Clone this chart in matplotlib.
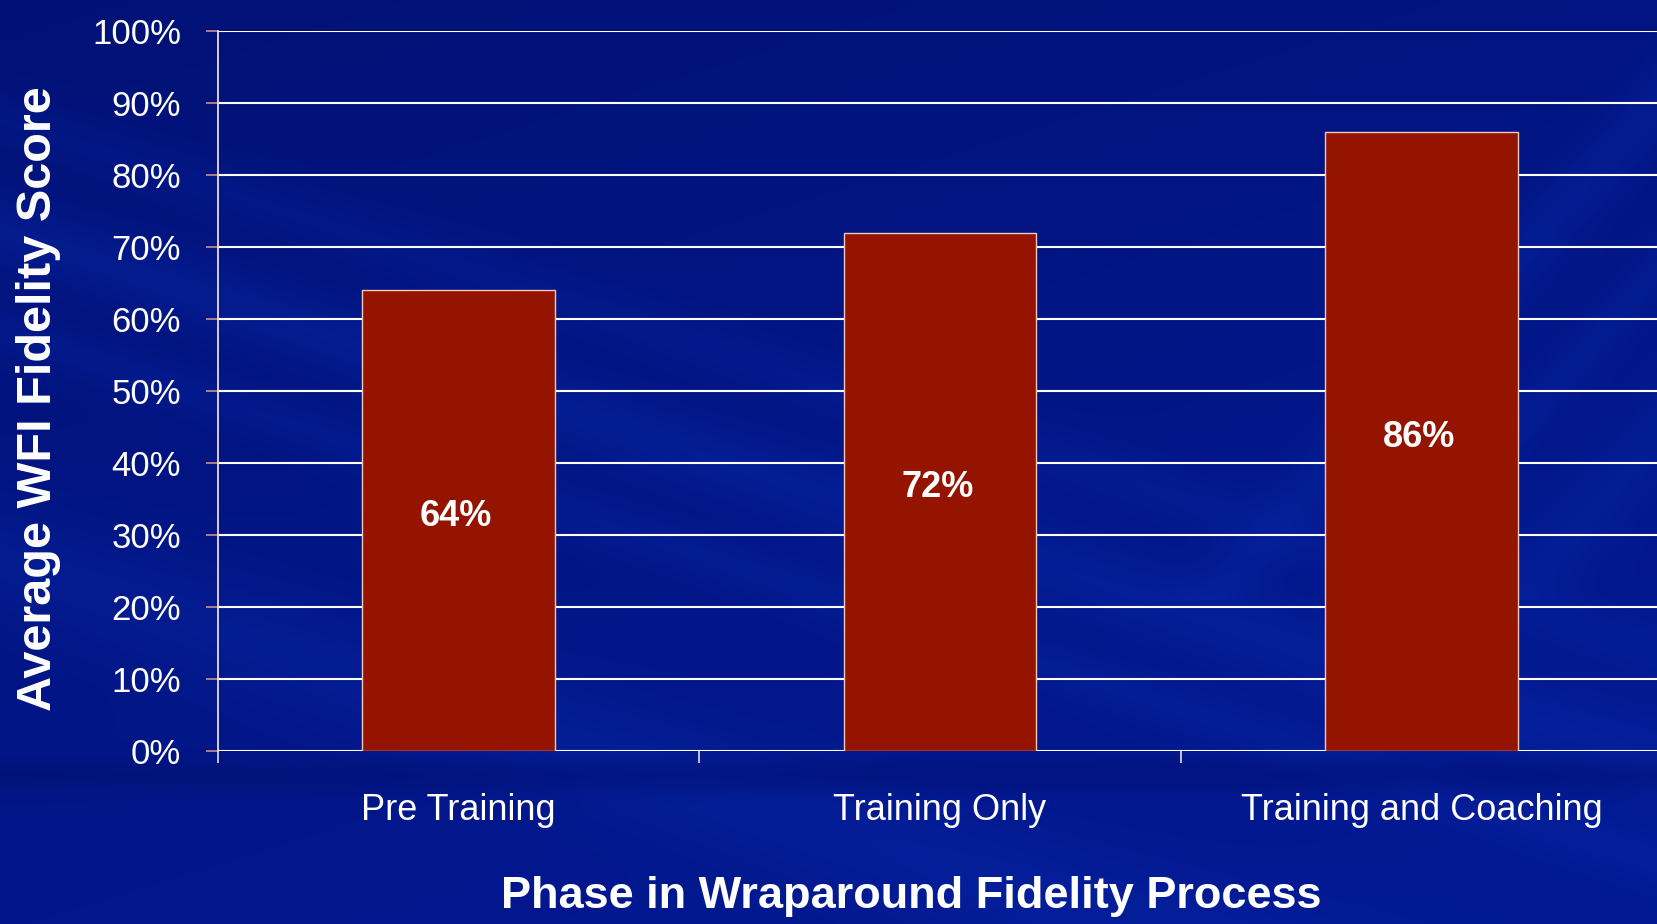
import numpy as np
import matplotlib.pyplot as plt

# ----------------------------------------------------------------------
# data
# ----------------------------------------------------------------------
phases = ['Pre Training', 'Training Only', 'Training and Coaching']
scores = [64, 72, 86]
y_ticks = [0, 10, 20, 30, 40, 50, 60, 70, 80, 90, 100]
y_tick_labels = [f'{v}%' for v in y_ticks]

W, H = 1658, 924
BAR_COLOR = '#941400'
FONT = ['Liberation Sans', 'DejaVu Sans']

plt.rcParams['font.family'] = FONT

fig = plt.figure(figsize=(W / 100, H / 100), dpi=100)

# ----------------------------------------------------------------------
# background: blue slide gradient with soft diagonal streaks
# ----------------------------------------------------------------------
yy, xx = np.mgrid[0:H, 0:W].astype(float)
dark = np.array([0.00, 0.05, 0.40])
mid = np.array([0.01, 0.10, 0.58])
light = np.array([0.04, 0.17, 0.68])

t = np.clip(0.35 + 0.45 * (yy / H) + 0.25 * (xx / W), 0, 1)
img = dark[None, None, :] * (1 - t[..., None]) + mid[None, None, :] * t[..., None]

s = yy - 0.32 * xx
for c, w, a in [(230, 40, 0.35), (330, 25, 0.25), (560, 60, 0.30), (120, 30, 0.2)]:
    g = np.exp(-((s - c) / w) ** 2) * a
    img = img * (1 - g[..., None]) + light[None, None, :] * g[..., None]

# steep streaks in the upper right
s2 = xx + 0.9 * yy
for c, w, a in [(1750, 40, 0.3), (1900, 30, 0.25), (2050, 50, 0.25)]:
    g = np.exp(-((s2 - c) / w) ** 2) * a * (yy < 600)
    img = img * (1 - g[..., None]) + light[None, None, :] * g[..., None]

# darker band just under the plot
band = np.exp(-((yy - 775) / 18) ** 2) * 0.35
img = img * (1 - band[..., None]) + dark[None, None, :] * band[..., None]
img = np.clip(img, 0, 1)

bg = fig.add_axes([0, 0, 1, 1], zorder=-1)
bg.imshow(img, aspect='auto', extent=[0, 1, 0, 1], interpolation='bilinear')
bg.set_axis_off()

# ----------------------------------------------------------------------
# bar chart
# ----------------------------------------------------------------------
ax = fig.add_axes([218 / W, 173 / H, (1662 - 218) / W, (892.7 - 173) / H])
ax.set_facecolor('none')

x = np.arange(len(phases))
bars = ax.bar(x, scores, width=0.4, color=BAR_COLOR, edgecolor='#f0c8bc',
              linewidth=1.0, zorder=3)

for xi, v in zip(x, scores):
    ax.text(xi - 0.005, v / 2 + 0.6, f'{v}%', ha='center', va='center',
            color='white', fontsize=26, fontweight='bold', zorder=4)

ax.set_xlim(-0.5, 2.5)
ax.set_ylim(0, 100)
ax.set_yticks(y_ticks)
ax.set_yticklabels(y_tick_labels)
ax.set_xticks(x)
ax.set_xticklabels(phases)
ax.set_xticks([-0.5, 0.5, 1.5], minor=True)

ax.yaxis.grid(True, color='white', linewidth=1.5, zorder=1)
ax.set_axisbelow(True)

for side in ['top', 'right', 'bottom']:
    ax.spines[side].set_visible(False)
ax.spines['left'].set_color('#e8dce4')
ax.spines['left'].set_linewidth(1.3)

ax.tick_params(axis='y', colors='white', labelsize=25, length=8.6, width=1.2,
               pad=18, direction='out')
ax.tick_params(axis='y', color='#c89090')
ax.tick_params(axis='x', which='major', length=0, colors='white',
               labelsize=26, pad=30)
ax.tick_params(axis='x', which='minor', length=8.6, width=1.2, color='#e8dce4')

ax.set_ylabel('Average WFI Fidelity Score', color='white', fontsize=35,
              fontweight='bold')
ax.yaxis.set_label_coords(-0.109, 0.49)
ax.set_xlabel('Phase in Wraparound Fidelity Process', color='white',
              fontsize=32.5, fontweight='bold')
ax.xaxis.set_label_coords((911 - 218) / 1444, -0.174)

plt.savefig('out.png', dpi=100)
